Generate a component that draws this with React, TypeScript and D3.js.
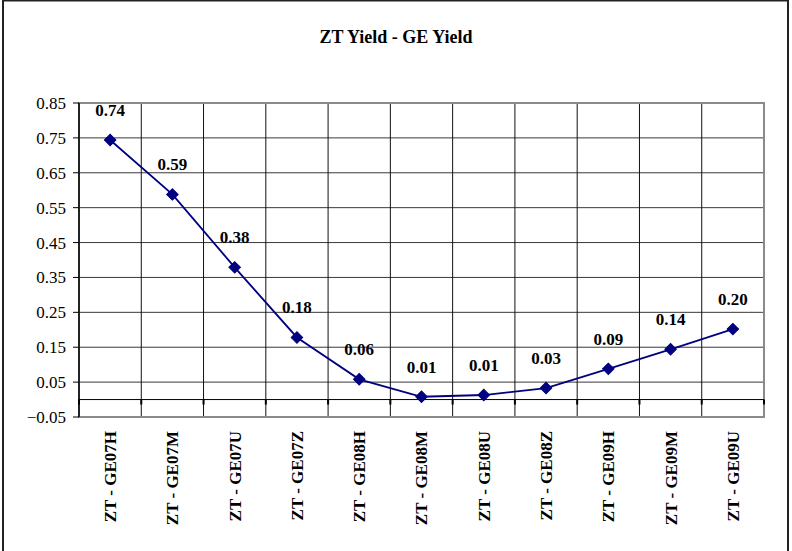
import React from "react";
import * as d3 from "d3";

const categories = [
  "ZT - GE07H", "ZT - GE07M", "ZT - GE07U", "ZT - GE07Z", "ZT - GE08H", "ZT - GE08M",
  "ZT - GE08U", "ZT - GE08Z", "ZT - GE09H", "ZT - GE09M", "ZT - GE09U",
];
const values = [0.744, 0.588, 0.379, 0.178, 0.058, 0.008, 0.013, 0.033, 0.088, 0.144, 0.202];
const yTicks = [-0.05, 0.05, 0.15, 0.25, 0.35, 0.45, 0.55, 0.65, 0.75, 0.85];
const title = "ZT Yield - GE Yield";

const W = 792;
const H = 551;
const plot = { left: 79, right: 764, top: 103, bottom: 417 };
const serif = "'Liberation Serif', 'Times New Roman', serif";

export default function App() {
  const x = d3.scaleBand<string>().domain(categories).range([plot.left, plot.right]).padding(0);
  const y = d3.scaleLinear().domain([-0.05, 0.85]).range([plot.bottom, plot.top]);
  const line = d3
    .line<number>()
    .x((_, i) => (x(categories[i]) as number) + x.bandwidth() / 2)
    .y((d) => y(d));
  const boundaries = d3.range(categories.length + 1).map((i) => plot.left + i * x.bandwidth());
  const diamond = d3.symbol().type(d3.symbolSquare).size(66)() as string;

  return (
    <svg
      width={W}
      height={H}
      style={{ position: "absolute", left: 0, top: 0, background: "#fff" }}
    >
      <rect x={3} y={0.5} width={785} height={H + 10} fill="#fff" stroke="#222" strokeWidth={2} />
      <text
        x={396}
        y={43}
        textAnchor="middle"
        fontFamily={serif}
        fontWeight="bold"
        fontSize={18}
        fill="#000"
      >
        {title}
      </text>

      {/* horizontal gridlines */}
      {yTicks.map((t) => (
        <line
          key={"h" + t}
          x1={plot.left}
          x2={plot.right}
          y1={y(t)}
          y2={y(t)}
          stroke="#3a3a3a"
          strokeWidth={1}
        />
      ))}
      {/* vertical gridlines */}
      {boundaries.map((bx, i) => (
        <line key={"v" + i} x1={bx} x2={bx} y1={plot.top} y2={plot.bottom} stroke="#111" strokeWidth={1} />
      ))}
      {/* plot border */}
      <rect
        x={plot.left}
        y={plot.top}
        width={plot.right - plot.left}
        height={plot.bottom - plot.top}
        fill="none"
        stroke="#8a8a8a"
        strokeWidth={2}
      />
      {/* zero line (category axis) */}
      <line x1={plot.left} x2={plot.right} y1={y(0)} y2={y(0)} stroke="#000" strokeWidth={1} />
      {boundaries.map((bx, i) => (
        <line key={"ct" + i} x1={bx} x2={bx} y1={y(0)} y2={y(0) + 5} stroke="#000" strokeWidth={2} />
      ))}
      {/* value axis */}
      <line x1={plot.left} x2={plot.left} y1={plot.top} y2={plot.bottom} stroke="#000" strokeWidth={1.5} />
      {yTicks.map((t) => (
        <g key={"yt" + t}>
          <line x1={plot.left - 6} x2={plot.left} y1={y(t)} y2={y(t)} stroke="#000" strokeWidth={1} />
          <text
            x={66}
            y={y(t)}
            dy="0.35em"
            textAnchor="end"
            fontFamily={serif}
            fontSize={17}
            fill="#000"
          >
            {d3.format(".2f")(t)}
          </text>
        </g>
      ))}

      {/* category labels */}
      {categories.map((c) => {
        const cx = (x(c) as number) + x.bandwidth() / 2;
        const ty = plot.bottom + 14;
        return (
          <text
            key={"c" + c}
            transform={`translate(${cx},${ty}) rotate(-90)`}
            dy="0.35em"
            textAnchor="end"
            fontFamily={serif}
            fontWeight="bold"
            fontSize={17}
            fill="#000"
          >
            {c}
          </text>
        );
      })}

      {/* series */}
      <path d={line(values) as string} fill="none" stroke="#000080" strokeWidth={1.8} />
      {values.map((v, i) => {
        const cx = (x(categories[i]) as number) + x.bandwidth() / 2;
        return (
          <g key={"p" + i}>
            <path
              d={diamond}
              transform={`translate(${cx},${y(v)}) rotate(45)`}
              fill="#000080"
              stroke="#000080"
            />
            <text
              x={cx}
              y={y(v) - 24}
              textAnchor="middle"
              fontFamily={serif}
              fontWeight="bold"
              fontSize={17}
              fill="#000"
            >
              {d3.format(".2f")(v)}
            </text>
          </g>
        );
      })}
    </svg>
  );
}
